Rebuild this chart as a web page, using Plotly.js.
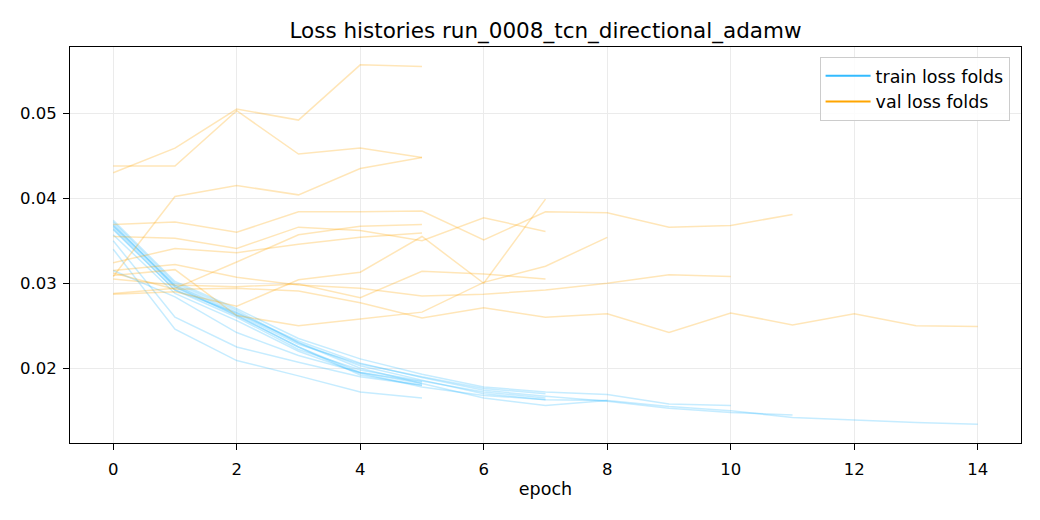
<!DOCTYPE html>
<html>
<head>
<meta charset="utf-8">
<script src="https://cdn.plot.ly/plotly-3.0.1.min.js"></script>
<style>
  html, body { margin: 0; padding: 0; background: #fff; }
  #chart { width: 1040px; height: 520px; }
</style>
</head>
<body>
<div id="chart"></div>
<script>
// ---------- DATA (one array per fold) ----------
const trainFolds = [
  [0.0372, 0.0300, 0.0268, 0.0230, 0.0200, 0.0182],
  [0.0366, 0.0295, 0.0262, 0.0225, 0.0192, 0.0180],
  [0.0340, 0.0246, 0.0209, 0.0191, 0.0172, 0.0165],
  [0.0350, 0.0260, 0.0225, 0.0207, 0.0190, 0.0180],
  [0.0315, 0.0284, 0.0242, 0.0215, 0.0195, 0.0184],
  [0.0368, 0.0297, 0.0264, 0.0228, 0.0205, 0.0190, 0.0176, 0.0170],
  [0.0364, 0.0292, 0.0260, 0.0222, 0.0198, 0.0185, 0.0172, 0.0165],
  [0.0357, 0.0288, 0.0256, 0.0220, 0.0194, 0.0178, 0.0168, 0.0163],
  [0.0370, 0.0296, 0.0262, 0.0225, 0.0195, 0.0182, 0.0165, 0.0156, 0.0162],
  [0.0374, 0.0302, 0.0270, 0.0235, 0.0211, 0.0193, 0.0178, 0.0172, 0.0169, 0.0158, 0.0156],
  [0.0363, 0.0292, 0.0265, 0.0232, 0.0206, 0.0189, 0.0174, 0.0167, 0.0161, 0.0153, 0.0148, 0.0145],
  [0.0368, 0.0298, 0.0266, 0.0230, 0.0203, 0.0186, 0.0170, 0.0163, 0.0162, 0.0155, 0.0150, 0.0142, 0.0139, 0.0136, 0.0134]
];

const valFolds = [
  [0.0438, 0.0438, 0.0503, 0.0452, 0.0459, 0.0448],
  [0.0430, 0.0459, 0.0505, 0.0492, 0.0557, 0.0555],
  [0.0308, 0.0402, 0.0415, 0.0404, 0.0435, 0.0448],
  [0.0324, 0.0341, 0.0336, 0.0346, 0.0354, 0.0359],
  [0.0288, 0.0294, 0.0325, 0.0357, 0.0367, 0.0369],
  [0.0355, 0.0353, 0.0341, 0.0366, 0.0362, 0.0350, 0.0377, 0.0361],
  [0.0287, 0.0290, 0.0273, 0.0304, 0.0313, 0.0355, 0.0300, 0.0399],
  [0.0305, 0.0298, 0.0296, 0.0299, 0.0283, 0.0314, 0.0311, 0.0305],
  [0.0309, 0.0316, 0.0262, 0.0250, 0.0258, 0.0266, 0.0301, 0.0320, 0.0354],
  [0.0315, 0.0322, 0.0307, 0.0298, 0.0294, 0.0285, 0.0287, 0.0292, 0.0300, 0.0310, 0.0308],
  [0.0369, 0.0372, 0.0360, 0.0384, 0.0384, 0.0385, 0.0351, 0.0384, 0.0383, 0.0366, 0.0368, 0.0381],
  [0.0312, 0.0293, 0.0294, 0.0291, 0.0277, 0.0259, 0.0271, 0.0260, 0.0264, 0.0242, 0.0265, 0.0251, 0.0264, 0.0250, 0.0249]
];

const xTicks = [0, 2, 4, 6, 8, 10, 12, 14];
const yTicks = [0.02, 0.03, 0.04, 0.05];

const TRAIN_COLOR = "#33bbff";
const VAL_COLOR = "#ffa500";

// ---------- TRACES ----------
function foldTrace(vals, color) {
  return {
    x: vals.map((v, i) => i),
    y: vals,
    type: "scatter",
    mode: "lines",
    line: { color: color, width: 1.5 },
    opacity: 0.28,
    showlegend: false,
    hoverinfo: "skip"
  };
}

// full-strength lines just for the legend
function legendTrace(name, color) {
  return {
    x: [null], y: [null],
    type: "scatter",
    mode: "lines",
    name: name,
    line: { color: color, width: 2 },
    showlegend: true
  };
}

const traces = [];
trainFolds.forEach(f => traces.push(foldTrace(f, TRAIN_COLOR)));
valFolds.forEach(f => traces.push(foldTrace(f, VAL_COLOR)));
traces.push(legendTrace("train loss folds", TRAIN_COLOR));
traces.push(legendTrace("val loss folds", VAL_COLOR));

// ---------- LAYOUT ----------
const axisCommon = {
  showline: true,
  mirror: true,
  linecolor: "#000",
  linewidth: 1,
  ticks: "outside",
  ticklen: 6,
  tickcolor: "#000",
  showgrid: true,
  gridcolor: "#ebebeb",
  gridwidth: 1,
  zeroline: false,
  tickfont: { size: 16.5, color: "#000" }
};

const layout = {
  width: 1040,
  height: 520,
  paper_bgcolor: "#fff",
  plot_bgcolor: "#fff",
  font: { family: "DejaVu Sans, sans-serif", color: "#000" },
  margin: { l: 70, r: 19, t: 47, b: 77 },
  title: {
    text: "Loss histories run_0008_tcn_directional_adamw",
    font: { size: 21.5 },
    xref: "paper", x: 0.5, xanchor: "center",
    yref: "container", y: 0.942, yanchor: "middle"
  },
  xaxis: Object.assign({}, axisCommon, {
    range: [-0.7, 14.7],
    tickvals: xTicks,
    ticklabelstandoff: 5,
    title: { text: "epoch", font: { size: 17.5 }, standoff: 4 }
  }),
  yaxis: Object.assign({}, axisCommon, {
    range: [0.0112, 0.0578],
    tickvals: yTicks,
    tickformat: ".2f",
    ticklabelstandoff: 3
  }),
  legend: {
    x: 0.988, xanchor: "right",
    y: 0.975, yanchor: "top",
    bgcolor: "rgba(255,255,255,0.85)",
    bordercolor: "#cccccc",
    borderwidth: 1,
    itemwidth: 45,
    font: { size: 17.5 }
  },
  showlegend: true
};

Plotly.newPlot("chart", traces, layout, { displayModeBar: false, staticPlot: true });
</script>
</body>
</html>
